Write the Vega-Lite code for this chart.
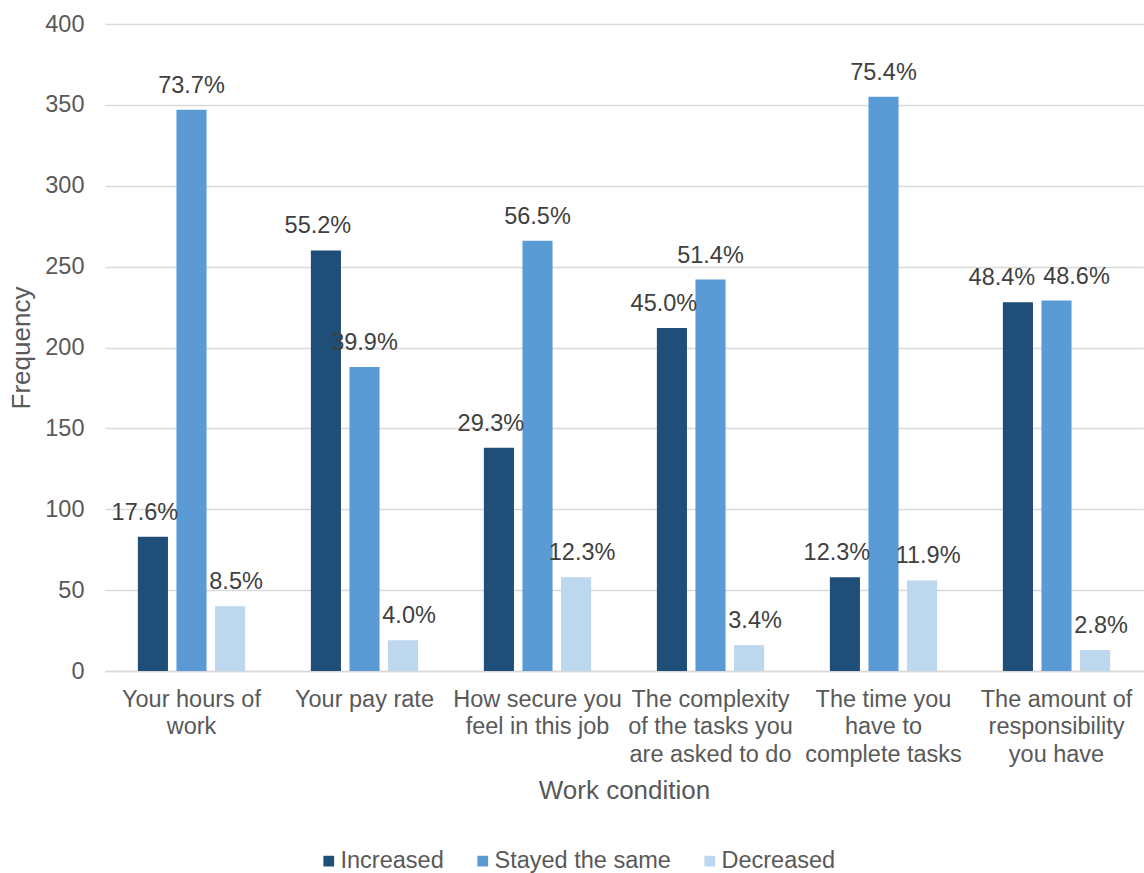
{
  "$schema": "https://vega.github.io/schema/vega-lite/v6.json",
  "width": 1038,
  "height": 647,
  "autosize": "none",
  "padding": {"left": 105, "top": 24, "right": 1, "bottom": 202},
  "background": "white",
  "config": {
    "font": "Liberation Sans",
    "view": {"stroke": null},
    "axis": {"labelColor": "#595959", "titleColor": "#595959", "labelFont": "Liberation Sans", "titleFont": "Liberation Sans", "titleFontWeight": "normal"}
  },
  "data": {
    "values": [
      {"condition": "Your hours of work", "change": "Increased", "freq": 83, "pct": "17.6%"},
      {"condition": "Your hours of work", "change": "Stayed the same", "freq": 347, "pct": "73.7%"},
      {"condition": "Your hours of work", "change": "Decreased", "freq": 40, "pct": "8.5%"},
      {"condition": "Your pay rate", "change": "Increased", "freq": 260, "pct": "55.2%"},
      {"condition": "Your pay rate", "change": "Stayed the same", "freq": 188, "pct": "39.9%"},
      {"condition": "Your pay rate", "change": "Decreased", "freq": 19, "pct": "4.0%"},
      {"condition": "How secure you feel in this job", "change": "Increased", "freq": 138, "pct": "29.3%"},
      {"condition": "How secure you feel in this job", "change": "Stayed the same", "freq": 266, "pct": "56.5%"},
      {"condition": "How secure you feel in this job", "change": "Decreased", "freq": 58, "pct": "12.3%"},
      {"condition": "The complexity of the tasks you are asked to do", "change": "Increased", "freq": 212, "pct": "45.0%"},
      {"condition": "The complexity of the tasks you are asked to do", "change": "Stayed the same", "freq": 242, "pct": "51.4%"},
      {"condition": "The complexity of the tasks you are asked to do", "change": "Decreased", "freq": 16, "pct": "3.4%"},
      {"condition": "The time you have to complete tasks", "change": "Increased", "freq": 58, "pct": "12.3%"},
      {"condition": "The time you have to complete tasks", "change": "Stayed the same", "freq": 355, "pct": "75.4%"},
      {"condition": "The time you have to complete tasks", "change": "Decreased", "freq": 56, "pct": "11.9%"},
      {"condition": "The amount of responsibility you have", "change": "Increased", "freq": 228, "pct": "48.4%"},
      {"condition": "The amount of responsibility you have", "change": "Stayed the same", "freq": 229, "pct": "48.6%"},
      {"condition": "The amount of responsibility you have", "change": "Decreased", "freq": 13, "pct": "2.8%"}
    ]
  },
  "encoding": {
    "x": {
      "field": "condition",
      "type": "nominal",
      "sort": null,
      "scale": {"paddingInner": 0.38, "paddingOuter": 0.19},
      "title": "Work condition",
      "axis": {
        "labelAngle": 0,
        "labelFontSize": 23.5,
        "labelLineHeight": 27.5,
        "labelPadding": 16,
        "labelLimit": 220,
        "labelOverlap": false,
        "ticks": false,
        "domainColor": "#d9d9d9",
        "domainWidth": 1.5,
        "titleFontSize": 26,
        "titlePadding": 12,
        "labelExpr": "datum.label == 'Your hours of work' ? ['Your hours of', 'work'] : datum.label == 'Your pay rate' ? ['Your pay rate'] : datum.label == 'How secure you feel in this job' ? ['How secure you', 'feel in this job'] : datum.label == 'The complexity of the tasks you are asked to do' ? ['The complexity', 'of the tasks you', 'are asked to do'] : datum.label == 'The time you have to complete tasks' ? ['The time you', 'have to', 'complete tasks'] : ['The amount of', 'responsibility', 'you have']"
      }
    },
    "xOffset": {
      "field": "change",
      "type": "nominal",
      "sort": ["Increased", "Stayed the same", "Decreased"],
      "scale": {"paddingInner": 0.22, "paddingOuter": 0}
    },
    "y": {
      "field": "freq",
      "type": "quantitative",
      "scale": {"domain": [0, 400]},
      "title": "Frequency",
      "axis": {
        "values": [0, 50, 100, 150, 200, 250, 300, 350, 400],
        "labelFontSize": 23.5,
        "labelPadding": 21,
        "labelOverlap": false,
        "ticks": false,
        "domain": false,
        "gridColor": "#d9d9d9",
        "gridWidth": 1.5,
        "titleFontSize": 26,
        "titlePadding": 10
      }
    }
  },
  "layer": [
    {
      "mark": {"type": "bar"},
      "encoding": {
        "color": {
          "field": "change",
          "type": "nominal",
          "sort": ["Increased", "Stayed the same", "Decreased"],
          "scale": {"domain": ["Increased", "Stayed the same", "Decreased"], "range": ["#1F4E79", "#5B9BD5", "#BDD7EE"]},
          "legend": {
            "title": null,
            "orient": "none",
            "legendX": 212,
            "legendY": 825,
            "direction": "horizontal",
            "symbolType": "square",
            "symbolSize": 115,
            "symbolStrokeWidth": 0,
            "labelFontSize": 23.5,
            "labelColor": "#595959",
            "labelFont": "Liberation Sans",
            "labelLimit": 400,
            "labelOffset": 0,
            "columnPadding": 27
          }
        }
      }
    },
    {
      "transform": [{"filter": "datum.change == 'Increased' && datum.condition != 'The amount of responsibility you have'"}],
      "mark": {"type": "text", "baseline": "alphabetic", "dy": -17, "dx": -8, "fontSize": 23.5, "color": "#404040"},
      "encoding": {"text": {"field": "pct"}}
    },
    {
      "transform": [{"filter": "datum.change == 'Stayed the same' && datum.condition != 'The amount of responsibility you have'"}],
      "mark": {"type": "text", "baseline": "alphabetic", "dy": -17, "dx": 0, "fontSize": 23.5, "color": "#404040"},
      "encoding": {"text": {"field": "pct"}}
    },
    {
      "transform": [{"filter": "datum.change == 'Decreased'"}],
      "mark": {"type": "text", "baseline": "alphabetic", "dy": -17, "dx": 6, "fontSize": 23.5, "color": "#404040"},
      "encoding": {"text": {"field": "pct"}}
    },
    {
      "transform": [{"filter": "datum.change == 'Increased' && datum.condition == 'The amount of responsibility you have'"}],
      "mark": {"type": "text", "baseline": "alphabetic", "dy": -17, "dx": -16, "fontSize": 23.5, "color": "#404040"},
      "encoding": {"text": {"field": "pct"}}
    },
    {
      "transform": [{"filter": "datum.change == 'Stayed the same' && datum.condition == 'The amount of responsibility you have'"}],
      "mark": {"type": "text", "baseline": "alphabetic", "dy": -17, "dx": 20, "fontSize": 23.5, "color": "#404040"},
      "encoding": {"text": {"field": "pct"}}
    }
  ]
}
